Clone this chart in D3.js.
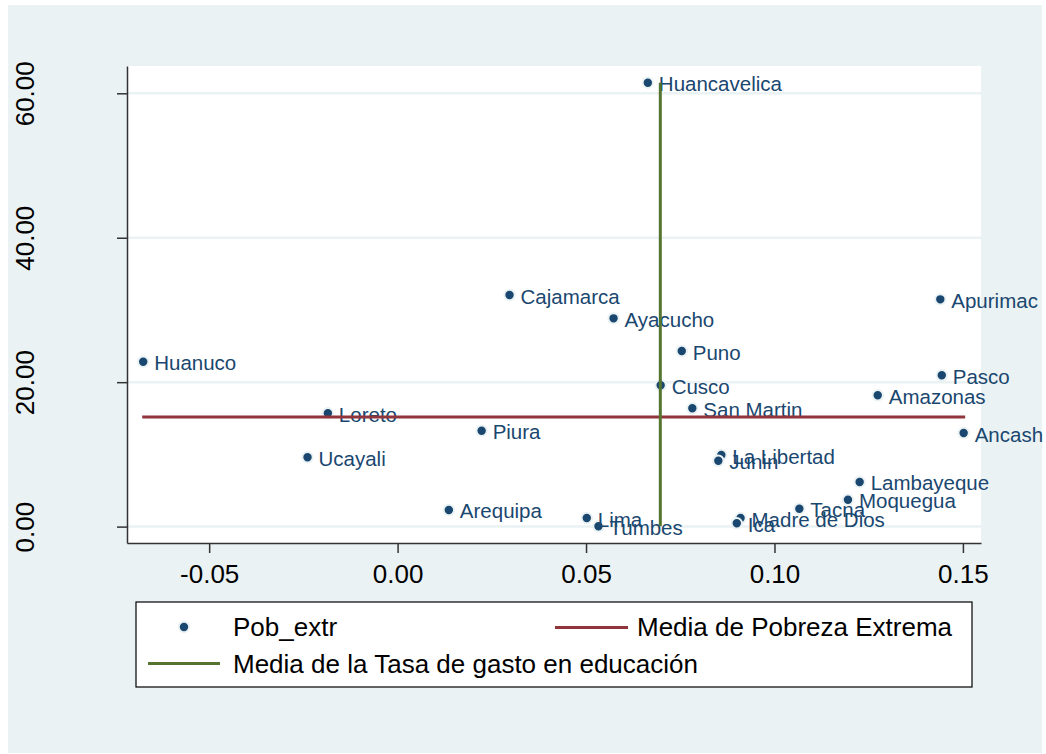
<!DOCTYPE html>
<html>
<head>
<meta charset="utf-8">
<script src="https://cdn.jsdelivr.net/npm/d3@7"></script>
<style>
  html, body { margin: 0; padding: 0; background: #ffffff; }
  svg { display: block; font-family: "Liberation Sans", Arial, Helvetica, sans-serif; }
</style>
</head>
<body>
<svg id="chart" width="1046" height="754"></svg>
<script>
// ---- Data ----
const regions = ["Huancavelica","Cajamarca","Ayacucho","Apurimac","Huanuco","Puno","Pasco","Cusco",
  "Amazonas","San Martin","Loreto","Piura","Ancash","Ucayali","La Libertad","Junin","Lambayeque",
  "Moquegua","Tacna","Arequipa","Lima","Tumbes","Madre de Dios","Ica"];
const tasaGasto = [0.0664,0.0297,0.0573,0.1440,-0.0675,0.0754,0.1444,0.0698,
  0.1274,0.0782,-0.0185,0.0223,0.1502,-0.0239,0.0859,0.0851,0.1226,
  0.1195,0.1066,0.0136,0.0502,0.0533,0.0910,0.0900];
const pobExtr = [61.47,32.07,28.84,31.47,22.83,24.31,20.95,19.57,
  18.18,16.38,15.69,13.28,12.96,9.60,9.91,9.12,6.18,
  3.72,2.48,2.30,1.19,0.04,1.19,0.46];
const xTicks = [-0.05, 0.00, 0.05, 0.10, 0.15];
const yTicks = [0, 20, 40, 60];
const legendLabels = ["Pob_extr", "Media de Pobreza Extrema", "Media de la Tasa de gasto en educación"];

const data = regions.map((r, i) => ({ name: r, x: tasaGasto[i], y: pobExtr[i] }));
const meanY = d3.mean(pobExtr);
const meanX = d3.mean(tasaGasto);

// ---- Styling ----
const BG = "#EAF2F3";
const NAVY = "#1A476F";
const RED = "#90353B";
const GREEN = "#55752F";
const fmt = d => d.toFixed(2);

const svg = d3.select("#chart");
const plot = { left: 127, right: 981, top: 66, bottom: 543 };

svg.append("rect").attr("x", 0).attr("y", 0).attr("width", 1046).attr("height", 754).attr("fill", "#ffffff");
svg.append("rect").attr("x", 8).attr("y", 5).attr("width", 1034).attr("height", 748).attr("fill", BG);
svg.append("rect").attr("x", plot.left).attr("y", plot.top)
  .attr("width", plot.right - plot.left).attr("height", plot.bottom - plot.top).attr("fill", "#ffffff");

const x = d3.scaleLinear().domain([-0.0718, 0.1548]).range([plot.left, plot.right]);
const y = d3.scaleLinear().domain([-2.27, 63.78]).range([plot.bottom, plot.top]);

// gridlines
svg.append("g").selectAll("line").data(yTicks).join("line")
  .attr("x1", plot.left).attr("x2", plot.right)
  .attr("y1", d => y(d)).attr("y2", d => y(d))
  .attr("stroke", BG).attr("stroke-width", 2.5);

// axes
const yAxis = svg.append("g").attr("transform", `translate(${plot.left},0)`)
  .call(d3.axisLeft(y).tickValues(yTicks).tickSizeInner(10).tickSizeOuter(0).tickFormat(fmt));
yAxis.select(".domain").attr("stroke", "#333").attr("stroke-width", 1.5);
yAxis.selectAll(".tick line").attr("stroke", "#333").attr("stroke-width", 1.5);
yAxis.selectAll(".tick text")
  .attr("font-size", 26).attr("fill", "#000")
  .attr("text-anchor", "middle")
  .attr("transform", "rotate(-90)")
  .attr("x", 0).attr("y", -93).attr("dy", 0);

const xAxis = svg.append("g").attr("transform", `translate(0,${plot.bottom})`)
  .call(d3.axisBottom(x).tickValues(xTicks).tickSizeInner(10).tickSizeOuter(0).tickFormat(fmt));
xAxis.select(".domain").attr("stroke", "#333").attr("stroke-width", 1.5);
xAxis.selectAll(".tick line").attr("stroke", "#333").attr("stroke-width", 1.5);
xAxis.selectAll(".tick text")
  .attr("font-size", 26).attr("fill", "#000")
  .attr("y", 40).attr("dy", 0);

// points
const pts = svg.append("g");
pts.selectAll("circle").data(data).join("circle")
  .attr("cx", d => x(d.x)).attr("cy", d => y(d.y))
  .attr("r", 5.2).attr("fill", NAVY).attr("stroke", BG).attr("stroke-width", 2);
pts.selectAll("text").data(data).join("text")
  .attr("x", d => x(d.x) + 11).attr("y", d => y(d.y) + 8.5)
  .attr("font-size", 20.5).attr("fill", NAVY)
  .text(d => d.name);

// mean lines
svg.append("line")
  .attr("x1", x(d3.min(tasaGasto)) - 1).attr("x2", x(d3.max(tasaGasto)) + 1.5)
  .attr("y1", y(meanY)).attr("y2", y(meanY))
  .attr("stroke", RED).attr("stroke-width", 3);
svg.append("line")
  .attr("x1", x(meanX)).attr("x2", x(meanX))
  .attr("y1", y(d3.max(pobExtr))).attr("y2", y(d3.min(pobExtr)))
  .attr("stroke", GREEN).attr("stroke-width", 3);

// legend
const lg = svg.append("g");
lg.append("rect").attr("x", 136).attr("y", 602).attr("width", 836).attr("height", 85)
  .attr("fill", "#ffffff").attr("stroke", "#000").attr("stroke-width", 1.2);
lg.append("circle").attr("cx", 184).attr("cy", 627).attr("r", 5.2)
  .attr("fill", NAVY).attr("stroke", BG).attr("stroke-width", 2);
lg.append("text").attr("x", 233).attr("y", 636).attr("font-size", 26).attr("fill", "#000").text(legendLabels[0]);
lg.append("line").attr("x1", 555).attr("x2", 628).attr("y1", 627.5).attr("y2", 627.5)
  .attr("stroke", RED).attr("stroke-width", 3);
lg.append("text").attr("x", 637).attr("y", 636).attr("font-size", 26).attr("fill", "#000").text(legendLabels[1]);
lg.append("line").attr("x1", 148).attr("x2", 220).attr("y1", 663.5).attr("y2", 663.5)
  .attr("stroke", GREEN).attr("stroke-width", 3);
lg.append("text").attr("x", 233).attr("y", 673).attr("font-size", 26).attr("fill", "#000").text(legendLabels[2]);
</script>
</body>
</html>
